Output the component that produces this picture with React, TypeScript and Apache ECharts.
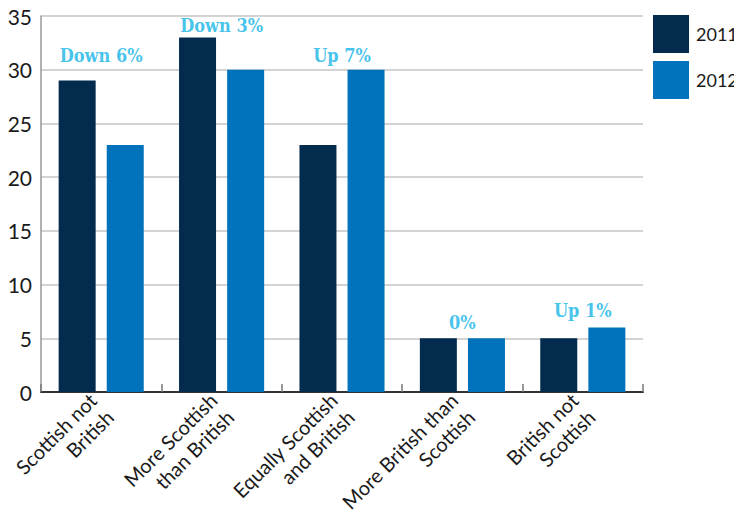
import React, { useEffect, useRef } from "react";
import * as echarts from "echarts";

const categories = [
  "Scottish not\nBritish",
  "More Scottish\nthan British",
  "Equally Scottish\nand British",
  "More British than\nScottish",
  "British not\nScottish",
];
const values2011 = [29, 33, 23, 5, 5];
const values2012 = [23, 30, 30, 5, 6];
const changeLabels = ["Down 6%", "Down 3%", "Up 7%", "0%", "Up 1%"];
const changeLabelY = [31.3, 34.1, 31.3, 6.5, 7.6];
const yTicks = { min: 0, max: 35, interval: 5 };

export default function App() {
  const ref = useRef<HTMLDivElement>(null);
  useEffect(() => {
    if (!ref.current) return;
    const chart = echarts.init(ref.current, null, { renderer: "svg" });
    const axisFont = "Lato, 'Open Sans', sans-serif";
    chart.setOption({
      animation: false,
      textStyle: { fontFamily: axisFont },
      grid: {
        left: 41,
        right: 99,
        top: 16,
        bottom: 130,
        containLabel: false,
        outerBoundsMode: "none",
      },
      legend: {
        orient: "vertical",
        left: 653,
        top: 15,
        itemWidth: 36,
        itemHeight: 38,
        itemGap: 8,
        icon: "rect",
        padding: 0,
        textStyle: {
          fontSize: 18,
          color: "#1a1a1a",
          fontFamily: axisFont,
          padding: [0, 0, 0, 2],
          overflow: "none",
          width: 50,
        },
        data: ["2011", "2012"],
      },
      xAxis: {
        type: "category",
        data: categories,
        axisLine: { lineStyle: { color: "#333", width: 2 } },
        axisTick: { show: true, inside: true, length: 8, lineStyle: { color: "#777", width: 1.5 } },
        axisLabel: {
          rotate: 45,
          interval: 0,
          fontSize: 20,
          color: "#1a1a1a",
          margin: 13,
          lineHeight: 24,
          align: "right",
        },
      },
      yAxis: {
        type: "value",
        min: yTicks.min,
        max: yTicks.max,
        interval: yTicks.interval,
        axisLine: { show: true, lineStyle: { color: "#999", width: 1.5 } },
        axisTick: { show: false },
        splitLine: { lineStyle: { color: "#c4c4c4", width: 1.5 } },
        axisLabel: { fontSize: 21, color: "#1a1a1a", margin: 9 },
      },
      series: [
        {
          name: "2011",
          type: "bar",
          data: values2011,
          barWidth: 37,
          barGap: "30%",
          itemStyle: { color: "#022b4e" },
        },
        {
          name: "2012",
          type: "bar",
          data: values2012,
          barWidth: 37,
          itemStyle: { color: "#0073bc" },
        },
        {
          name: "change",
          type: "scatter",
          symbolSize: 0,
          data: changeLabelY.map((v, i) => ({ value: [i, v], name: changeLabels[i] })),
          label: {
            show: true,
            position: "inside",
            formatter: (p: any) => changeLabels[p.dataIndex],
            fontFamily: "'DejaVu Serif Condensed', 'DejaVu Serif', serif",
            fontWeight: "bold",
            fontSize: 18,
            color: "#14b4e6",
          },
          silent: true,
          z: 5,
        },
      ],
    });
    return () => chart.dispose();
  }, []);
  return <div ref={ref} style={{ width: 742, height: 522, margin: -8 }} />;
}
